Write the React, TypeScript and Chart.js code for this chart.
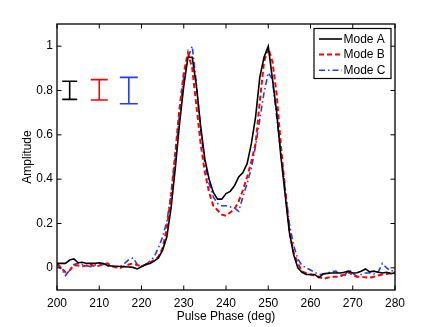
import React, { useEffect, useRef } from "react";
import { Chart, registerables } from "chart.js";

Chart.register(...registerables);

// ---------- data ----------
const phase = [
  200, 201, 202, 203, 204, 205, 206, 207, 208, 209,
  210, 211, 212, 213, 214, 215, 216, 217, 218, 219,
  220, 221, 222, 223, 224, 225, 226, 227, 228, 229,
  230, 231, 232, 233, 234, 235, 236, 237, 238, 239,
  240, 241, 242, 243, 244, 245, 246, 247, 248, 249,
  250, 251, 252, 253, 254, 255, 256, 257, 258, 259,
  260, 261, 262, 263, 264, 265, 266, 267, 268, 269,
  270, 271, 272, 273, 274, 275, 276, 277, 278, 279,
  280,
];

const modeA = [
  0.02, 0.02, 0.02, 0.035, 0.04, 0.023, 0.025, 0.02, 0.02, 0.02,
  0.023, 0.02, 0.01, 0.008, 0.007, 0.006, 0.005, 0.004, 0.002, -0.005,
  0.005, 0.015, 0.02, 0.03, 0.045, 0.08, 0.14, 0.27, 0.45, 0.65,
  0.82, 0.95, 0.95, 0.82, 0.64, 0.49, 0.4, 0.34, 0.31, 0.31,
  0.335, 0.345, 0.37, 0.41, 0.43, 0.47, 0.56, 0.68, 0.86, 0.95,
  1.0, 0.85, 0.7, 0.5, 0.33, 0.16, 0.06, 0.0, -0.02, -0.03,
  -0.03, -0.03, -0.045, -0.027, -0.025, -0.023, -0.023, -0.023, -0.02, -0.015,
  -0.023, -0.022, -0.015, -0.005, -0.018, -0.015, -0.02, -0.023, -0.02, -0.026,
  -0.023,
];

const modeB = [
  0.02, 0.0, -0.02, -0.012, 0.012, 0.01, 0.007, 0.01, 0.015, 0.005,
  0.01, 0.015, 0.02, 0.007, 0.002, 0.0, 0.008, 0.015, 0.02, 0.012,
  0.007, 0.015, 0.025, 0.035, 0.05, 0.09, 0.18, 0.33, 0.52, 0.72,
  0.88, 0.97, 0.9, 0.73, 0.56, 0.43, 0.34, 0.28, 0.26, 0.24,
  0.235, 0.25, 0.265, 0.3, 0.35, 0.41, 0.48, 0.56, 0.75, 0.93,
  0.99, 0.93, 0.78, 0.55, 0.35, 0.17, 0.07, 0.02, -0.015, -0.025,
  -0.03, -0.035, -0.04, -0.05, -0.045, -0.04, -0.04, -0.04, -0.03, -0.02,
  -0.033, -0.04, -0.04, -0.043, -0.045, -0.04, -0.035, -0.03, -0.028, -0.023,
  -0.02,
];

const modeC = [
  0.015, -0.005, -0.035, -0.01, 0.015, 0.02, 0.015, 0.01, 0.005, 0.012,
  0.02, 0.015, 0.01, 0.007, 0.005, 0.005, 0.02, 0.037, 0.045, 0.015,
  0.008, 0.015, 0.03, 0.05, 0.09, 0.14, 0.21, 0.33, 0.5, 0.7,
  0.86, 0.95, 1.0, 0.83, 0.62, 0.47, 0.38, 0.32, 0.29, 0.28,
  0.28, 0.275, 0.27, 0.255, 0.32, 0.38, 0.45, 0.55, 0.67, 0.79,
  0.88, 0.85, 0.68, 0.52, 0.36, 0.2, 0.1, 0.04, 0.01, 0.0,
  -0.01, -0.02, -0.03, -0.028, -0.023, -0.018, -0.015, -0.03, -0.038, -0.008,
  -0.023, -0.04, -0.03, -0.023, -0.023, -0.028, -0.02, 0.02, 0.0, -0.015,
  -0.01,
];

const seriesLabels = ["Mode A", "Mode B", "Mode C"];
const xTicks = [200, 210, 220, 230, 240, 250, 260, 270, 280];
const yTicks = [0, 0.2, 0.4, 0.6, 0.8, 1];

// error bars (one per mode)
const errX = [203, 210, 217];
const errLow = [0.76, 0.757, 0.74];
const errHigh = [0.842, 0.849, 0.859];

// ---------- styles ----------
const FONT = '"Liberation Sans", Arial, Helvetica, sans-serif';
const COLORS = ["#000000", "#ff0000", "#1f3dff"];
const DASHES: number[][] = [[], [5, 3], [6, 3, 1.5, 3]];
const WIDTHS = [1.6, 2, 1.6];
const CAP_HALF = [7.5, 8.5, 9];

const framePlugin = {
  id: "matlabFrame",
  afterDatasetsDraw(chart: any) {
    const { ctx, chartArea: a, scales } = chart;
    const xs = scales.x;
    const ys = scales.y;
    ctx.save();

    // error bars
    errX.forEach((xv, i) => {
      const px = xs.getPixelForValue(xv);
      const pLo = ys.getPixelForValue(errLow[i]);
      const pHi = ys.getPixelForValue(errHigh[i]);
      ctx.strokeStyle = COLORS[i];
      ctx.lineWidth = 1.6;
      ctx.setLineDash([]);
      ctx.beginPath();
      ctx.moveTo(px, pLo);
      ctx.lineTo(px, pHi);
      ctx.moveTo(px - CAP_HALF[i], pLo);
      ctx.lineTo(px + CAP_HALF[i], pLo);
      ctx.moveTo(px - CAP_HALF[i], pHi);
      ctx.lineTo(px + CAP_HALF[i], pHi);
      ctx.stroke();
    });

    // frame
    ctx.strokeStyle = "#000";
    ctx.lineWidth = 1.3;
    ctx.strokeRect(a.left, a.top, a.right - a.left, a.bottom - a.top);

    // inward ticks
    const tl = 4.5;
    ctx.lineWidth = 1;
    ctx.beginPath();
    xTicks.forEach((v) => {
      const p = xs.getPixelForValue(v);
      ctx.moveTo(p, a.bottom);
      ctx.lineTo(p, a.bottom - tl);
      ctx.moveTo(p, a.top);
      ctx.lineTo(p, a.top + tl);
    });
    yTicks.forEach((v) => {
      const p = ys.getPixelForValue(v);
      ctx.moveTo(a.left, p);
      ctx.lineTo(a.left + tl, p);
      ctx.moveTo(a.right, p);
      ctx.lineTo(a.right - tl, p);
    });
    ctx.stroke();

    // legend
    const bw = 77;
    const bh = 50;
    const bx = a.right - 4 - bw;
    const by = a.top + 4.5;
    ctx.fillStyle = "#fff";
    ctx.fillRect(bx, by, bw, bh);
    ctx.strokeStyle = "#000";
    ctx.lineWidth = 1.2;
    ctx.strokeRect(bx, by, bw, bh);
    ctx.font = `12px ${FONT}`;
    ctx.textBaseline = "middle";
    ctx.textAlign = "left";
    seriesLabels.forEach((lab, i) => {
      const ry = by + 10.5 + i * 15.6;
      ctx.strokeStyle = COLORS[i];
      ctx.lineWidth = WIDTHS[i];
      ctx.setLineDash(DASHES[i]);
      ctx.beginPath();
      ctx.moveTo(bx + 5, ry);
      ctx.lineTo(bx + 28, ry);
      ctx.stroke();
      ctx.setLineDash([]);
      ctx.fillStyle = "#000";
      ctx.fillText(lab, bx + 29.5, ry + 0.5);
    });

    ctx.restore();
  },
};

export default function App() {
  const ref = useRef<HTMLCanvasElement | null>(null);

  useEffect(() => {
    document.body.style.margin = "0";
    const canvas = ref.current;
    if (!canvas) return;
    const series = [modeA, modeB, modeC];
    const chart = new Chart(canvas, {
      type: "line",
      data: {
        datasets: series.map((s, i) => ({
          label: seriesLabels[i],
          data: phase.map((x, j) => ({ x, y: s[j] })),
          borderColor: COLORS[i],
          borderWidth: WIDTHS[i],
          borderDash: DASHES[i],
          pointRadius: 0,
          tension: 0,
          fill: false,
        })),
      },
      options: {
        animation: false,
        responsive: false,
        devicePixelRatio: 1,
        layout: { padding: { top: 24, right: 41, left: 0, bottom: 0 } },
        plugins: { legend: { display: false }, tooltip: { enabled: false } },
        scales: {
          x: {
            type: "linear",
            min: 200,
            max: 280,
            afterBuildTicks: (s: any) => {
              s.ticks = xTicks.map((v) => ({ value: v }));
            },
            afterFit: (s: any) => {
              s.height = 37;
            },
            grid: { display: false, drawTicks: false, tickLength: 0 },
            border: { display: false },
            ticks: {
              color: "#000",
              font: { family: FONT, size: 12 },
              padding: 6,
              maxRotation: 0,
              autoSkip: false,
              callback: (v: any) => String(v),
            },
            title: {
              display: true,
              text: "Pulse Phase (deg)",
              color: "#000",
              font: { family: FONT, size: 12 },
              padding: { top: 0, bottom: 3 },
            },
          },
          y: {
            type: "linear",
            min: -0.1,
            max: 1.1,
            afterBuildTicks: (s: any) => {
              s.ticks = yTicks.map((v) => ({ value: v }));
            },
            afterFit: (s: any) => {
              s.width = 57;
            },
            grid: { display: false, drawTicks: false, tickLength: 0 },
            border: { display: false },
            ticks: {
              color: "#000",
              font: { family: FONT, size: 12 },
              padding: 4,
              autoSkip: false,
              callback: (v: any) => String(Math.round(v * 10) / 10),
            },
            title: {
              display: true,
              text: "Amplitude",
              color: "#000",
              font: { family: FONT, size: 12 },
              padding: { top: 20, bottom: 0 },
            },
          },
        },
      },
      plugins: [framePlugin],
    });
    return () => chart.destroy();
  }, []);

  return (
    <div style={{ position: "absolute", left: 0, top: 0, background: "#fff" }}>
      <canvas ref={ref} width={436} height={327} style={{ display: "block", width: 436, height: 327 }} />
    </div>
  );
}
